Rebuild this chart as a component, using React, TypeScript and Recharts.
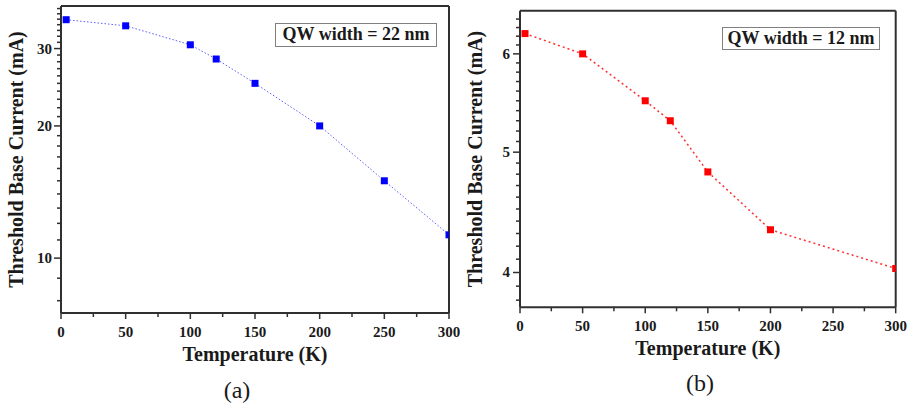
import { Line, LineChart, XAxis, YAxis } from 'recharts'

const temps22 = [4, 50, 100, 120, 150, 200, 250, 300]
const current22 = [34.9, 33.8, 30.6, 28.4, 25.0, 20.0, 15.0, 11.3]
const temps12 = [4, 50, 100, 120, 150, 200, 300]
const current12 = [6.23, 6.0, 5.5, 5.3, 4.82, 4.33, 4.03]

const xTicks = [0, 25, 50, 75, 100, 125, 150, 175, 200, 225, 250, 275, 300]
const xMajor = [0, 50, 100, 150, 200, 250, 300]
const topTicks = [30, 60, 90, 120, 150, 180, 210, 240, 270]
const rightTicks = [1, 2, 3, 4, 5, 6, 7, 8, 9]

const yTicks22 = [8, 9, 10, 11, 12, 13, 14, 15, 16, 17, 18, 19, 20, 21, 22, 23, 24, 25, 26, 27, 28, 29, 30, 31, 32, 33, 34, 35, 36, 37]
const yMajor22 = [10, 20, 30]
const yTicks12 = [3.8, 3.9, 4, 4.1, 4.2, 4.3, 4.4, 4.5, 4.6, 4.7, 4.8, 4.9, 5, 5.1, 5.2, 5.3, 5.4, 5.5, 5.6, 5.7, 5.8, 5.9, 6, 6.1, 6.2, 6.3, 6.4]
const yMajor12 = [4, 5, 6]

const FONT = '"Times New Roman", "Liberation Serif", Times, serif'
const AXIS = '#303030'
const INK = '#1a1a1a'

const leftTick = (majors: number[], gap: number) => (props: any) => {
  const { x, y, payload } = props
  const major = majors.includes(payload.value)
  const len = major ? 7 : 4
  return (
    <g>
      <line x1={x - len} x2={x} y1={y} y2={y} stroke={AXIS} strokeWidth={1.5} />
      {major && (
        <text x={x - gap} y={y} textAnchor="end" dominantBaseline="central"
          fontFamily={FONT} fontWeight={700} fontSize={15} fill={INK}>
          {payload.value}
        </text>
      )}
    </g>
  )
}

const bottomTick = (props: any) => {
  const { x, y, payload } = props
  const major = xMajor.includes(payload.value)
  const len = major ? 6 : 4
  return (
    <g>
      <line x1={x} x2={x} y1={y} y2={y + len} stroke={AXIS} strokeWidth={1.5} />
      {major && (
        <text x={x} y={y + 18.5} textAnchor="middle" dominantBaseline="central"
          fontFamily={FONT} fontWeight={700} fontSize={15} fill={INK}>
          {payload.value}
        </text>
      )}
    </g>
  )
}

const square = (color: string) => (p: any) => (
  <rect key={p.index} x={p.cx - 3.5} y={p.cy - 3.5} width={7} height={7} fill={color} />
)

const labelStyle = { fontFamily: FONT, fontWeight: 700, fontSize: 20, fill: INK }

function Panel(props: any) {
  const rows = props.temps.map((t: number, i: number) => ({ t, v: props.values[i] }))
  return (
    <LineChart width={props.width} height={405} data={rows} margin={props.margin}>
      <XAxis
        type="number"
        dataKey="t"
        domain={[0, 300]}
        allowDataOverflow
        ticks={xTicks}
        interval={0}
        tickSize={0}
        tickMargin={0}
        tickLine={false}
        tick={bottomTick}
        height={60}
        axisLine={{ stroke: AXIS, strokeWidth: 2 }}
        label={{ value: 'Temperature (K)', position: 'center', dy: props.xDy, style: labelStyle }}
      />
      <XAxis
        xAxisId="top"
        orientation="top"
        type="number"
        domain={[0, 300]}
        ticks={topTicks}
        interval={0}
        tick={false}
        tickSize={-7}
        height={1}
        stroke={AXIS}
        tickLine={{ stroke: AXIS, strokeWidth: 1.5 }}
        axisLine={{ stroke: AXIS, strokeWidth: 2 }}
      />
      <YAxis
        type="number"
        scale="log"
        domain={props.domain}
        allowDataOverflow
        ticks={props.ticks}
        interval={0}
        tickSize={0}
        tickMargin={0}
        tickLine={false}
        tick={leftTick(props.majors, props.gap)}
        width={props.axisWidth}
        axisLine={{ stroke: AXIS, strokeWidth: 2 }}
        label={{
          value: 'Threshold Base Current (mA)',
          angle: -90,
          position: 'center',
          dx: props.yDx,
          style: labelStyle,
        }}
      />
      <YAxis
        yAxisId="r"
        orientation="right"
        type="number"
        domain={[0, 10]}
        ticks={rightTicks}
        interval={0}
        tick={false}
        tickSize={-6}
        width={1}
        stroke={AXIS}
        tickLine={{ stroke: AXIS, strokeWidth: 1.5 }}
        axisLine={{ stroke: AXIS, strokeWidth: 2 }}
      />
      <Line
        type="linear"
        dataKey="v"
        stroke={props.color}
        strokeWidth={props.strokeWidth}
        strokeDasharray={props.dash}
        dot={square(props.dot)}
        activeDot={false}
        isAnimationActive={false}
      />
    </LineChart>
  )
}

const boxStyle = (left: number, top: number, width: number, height: number) => ({
  position: 'absolute' as const,
  left,
  top,
  width,
  height,
  border: '1px solid #808080',
  boxSizing: 'border-box' as const,
  display: 'flex',
  alignItems: 'center',
  justifyContent: 'center',
  fontFamily: FONT,
  fontWeight: 700,
  fontSize: 18,
  color: INK,
  background: '#fff',
  whiteSpace: 'nowrap' as const,
})

const captionStyle = (cx: number, cy: number) => ({
  position: 'absolute' as const,
  left: cx - 30,
  top: cy - 15,
  width: 60,
  height: 30,
  lineHeight: '30px',
  textAlign: 'center' as const,
  fontFamily: FONT,
  fontSize: 24,
  color: INK,
})

export default function App() {
  return (
    <div style={{ position: 'absolute', left: 0, top: 0, width: 913, height: 405, background: '#fff', overflow: 'hidden' }}>
      <div style={{ position: 'absolute', left: 0, top: 0 }}>
        <Panel
          temps={temps22}
          values={current22}
          domain={[7.5, 37.5]}
          ticks={yTicks22}
          majors={yMajor22}
          color="#5c5cff"
          dot="#0000ff"
          dash="1.5 2"
          strokeWidth={1}
          width={460}
          axisWidth={61}
          margin={{ top: 5, right: 10, bottom: 32, left: 0 }}
          yDx={-14.5}
          xDy={11}
          gap={9}
        />
      </div>
      <div style={{ position: 'absolute', left: 460, top: 0 }}>
        <Panel
          temps={temps12}
          values={current12}
          domain={[3.75, 6.5]}
          ticks={yTicks12}
          majors={yMajor12}
          color="#ff3030"
          dot="#ff0000"
          dash="2 3"
          strokeWidth={1.5}
          width={453}
          axisWidth={60}
          margin={{ top: 9.7, right: 16.3, bottom: 37.7, left: 0 }}
          yDx={-15}
          xDy={10.2}
          gap={10}
        />
      </div>
      <div style={boxStyle(275, 22.7, 162, 24)}>QW width = 22 nm</div>
      <div style={boxStyle(722, 26.7, 158, 23)}>QW width = 12 nm</div>
      <div style={captionStyle(237, 390)}>(a)</div>
      <div style={captionStyle(700, 383)}>(b)</div>
    </div>
  )
}
